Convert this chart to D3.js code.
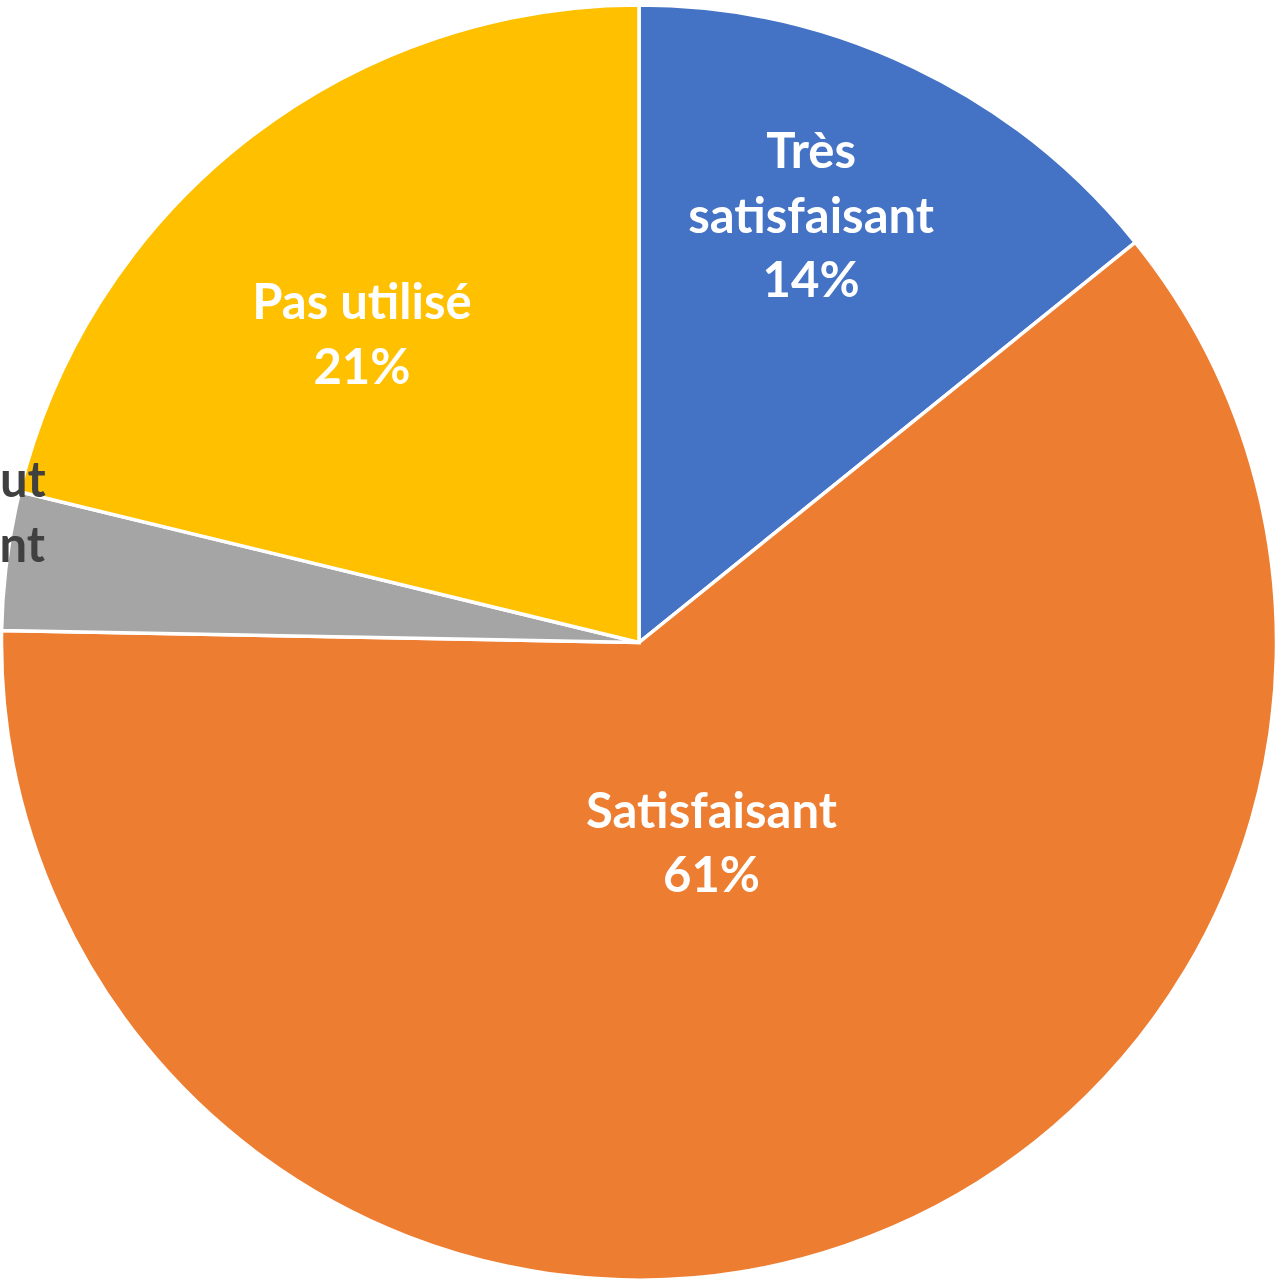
<!DOCTYPE html>
<html><head><meta charset="utf-8">
<script src="https://cdn.jsdelivr.net/npm/d3@7"></script>
<style>html,body{margin:0;padding:0;background:#fff;overflow:hidden}svg{display:block}</style>
</head><body>
<svg id="c" width="1281" height="1280"></svg>
<script>
// Data
const categories = ["Très satisfaisant", "Satisfaisant", "Pas du tout satisfaisant", "Pas utilisé"];
const labelLines = [["Très", "satisfaisant"], ["Satisfaisant"], ["Pas du tout", "satisfaisant"], ["Pas utilisé"]];
const values = [14.2, 61.1, 3.5, 21.2];

// Style / layout
const colors = ["#4472C4", "#ED7D31", "#A5A5A5", "#FFC000"];
const textColors = ["#ffffff", "#ffffff", "#404040", "#ffffff"];
const labelRadius = [0.722, 0.334, 1.135, 0.65];
const labelAngleOffset = [-3.6, -1.0, 0.4, -3.8]; // degrees
const W = 1281, H = 1280, cx = 639, cy = 642.5, R = 637.5;
const fontSize = 49, lineH = 64.5;

const svg = d3.select("#c");
const g = svg.append("g").attr("transform", `translate(${cx},${cy})`);
const pie = d3.pie().sort(null).value(d => d)(values);
const arc = d3.arc().innerRadius(0).outerRadius(R);

g.selectAll("path.slice").data(pie).join("path")
  .attr("class", "slice")
  .attr("d", arc)
  .attr("fill", (d, i) => colors[i])
  .attr("stroke", "#fff").attr("stroke-width", 3.5).attr("stroke-linejoin", "miter");

pie.forEach((d, i) => {
  const mid = (d.startAngle + d.endAngle) / 2 + labelAngleOffset[i] * Math.PI / 180;
  const r = labelRadius[i] * R;
  const x = r * Math.sin(mid), y = -r * Math.cos(mid);
  const lines = labelLines[i].concat([Math.round(values[i]) + "%"]);
  const n = lines.length;
  const t = g.append("text")
    .attr("text-anchor", "middle")
    .attr("font-family", "Lato, 'Open Sans', sans-serif")
    .attr("font-weight", "bold")
    .attr("font-size", fontSize)
    .attr("fill", textColors[i]);
  lines.forEach((ln, j) => {
    t.append("tspan").attr("x", x)
      .attr("y", y + (j - (n - 1) / 2) * lineH + 0.35 * fontSize)
      .text(ln);
  });
});
</script>
</body></html>
